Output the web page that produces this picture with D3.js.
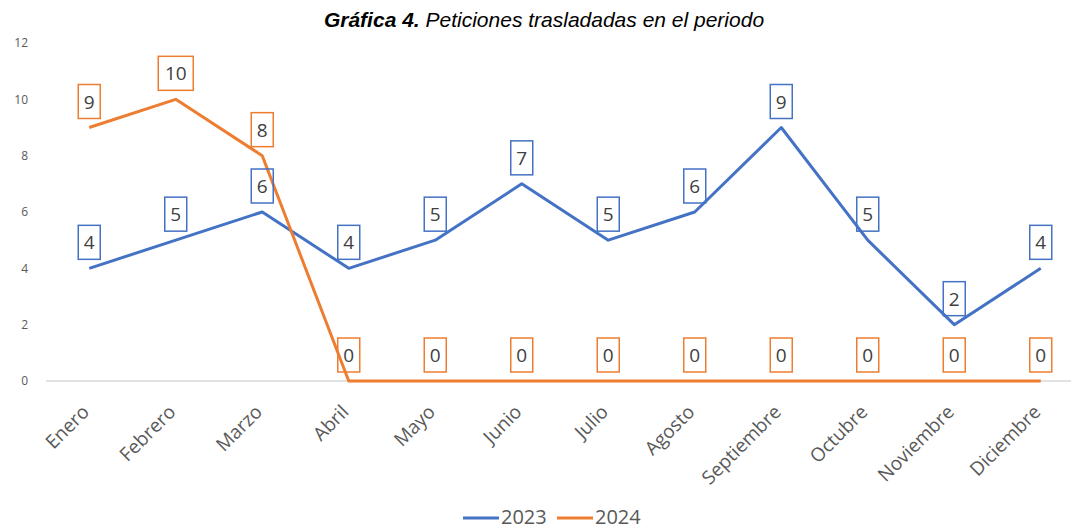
<!DOCTYPE html>
<html>
<head>
<meta charset="utf-8">
<script src="https://cdn.jsdelivr.net/npm/d3@7"></script>
<style>
  body { margin: 0; background: #fff; }
  svg { display: block; }
</style>
</head>
<body>
<div id="chart"></div>
<script>
/* global d3 */

const months = ['Enero', 'Febrero', 'Marzo', 'Abril', 'Mayo', 'Junio', 'Julio', 'Agosto', 'Septiembre', 'Octubre', 'Noviembre', 'Diciembre']
const values2023 = [4, 5, 6, 4, 5, 7, 5, 6, 9, 5, 2, 4]
const values2024 = [9, 10, 8, 0, 0, 0, 0, 0, 0, 0, 0, 0]
const seriesNames = ['2023', '2024']
const yTicks = [0, 2, 4, 6, 8, 10, 12]

const colors = { '2023': '#4472C4', '2024': '#ED7D31' }
const svgWidth = 1071
const svgHeight = 529

let svg = d3.select('#chart').append('svg')
    .attr('width', svgWidth)
    .attr('height', svgHeight)
    .style('font-family', "'Open Sans', sans-serif")

// title
let title = svg.append('text')
    .attr('x', 544)
    .attr('y', 27)
    .attr('text-anchor', 'middle')
    .style('font-family', "'Liberation Sans', Arial, sans-serif")
    .style('font-size', '21px')
    .style('font-style', 'italic')
title.append('tspan').style('font-weight', 'bold').text('Gráfica 4.')
title.append('tspan').text(' Peticiones trasladadas en el periodo')

let x = d3.scaleBand()
    .domain(months)
    .range([46, 1084])

let y = d3.scaleLinear()
    .domain([0, 12])
    .range([381, 43])

let xc = (m) => x(m) + x.bandwidth() / 2

// y axis labels (no line)
let yAxis = svg.append('g').attr('class', 'y-axis')
    .attr('transform', 'translate(28,0)')
    .call(d3.axisLeft(y).tickValues(yTicks).tickSize(0).tickPadding(0))
yAxis.select('.domain').remove()
yAxis.selectAll('text')
    .attr('fill', '#595959')
    .style('font-size', '12px')
    .style('font-family', "'Open Sans', sans-serif")

// baseline
svg.append('line')
    .attr('x1', 46).attr('x2', 1084)
    .attr('y1', y(0)).attr('y2', y(0))
    .attr('stroke', '#d9d9d9')
    .attr('stroke-width', 1.5)

// x axis labels
let xAxis = svg.append('g').attr('class', 'x-axis')
    .attr('transform', 'translate(0,' + y(0) + ')')
    .call(d3.axisBottom(x).tickSize(0))
xAxis.select('.domain').remove()
xAxis.selectAll('text')
    .attr('fill', '#595959')
    .style('font-size', '19px')
    .style('font-family', "'Open Sans', sans-serif")
    .attr('text-anchor', 'end')
    .attr('dy', 0)
    .attr('transform', 'translate(-1,30) rotate(-45)')

let line = d3.line()
    .x((d) => xc(d.month))
    .y((d) => y(d.value))

let series = seriesNames.map((name, i) => ({
    name: name,
    points: months.map((m, j) => ({ month: m, value: [values2023, values2024][i][j] }))
}))

series.forEach((s) => {
    svg.append('path')
        .datum(s.points)
        .attr('fill', 'none')
        .attr('stroke', colors[s.name])
        .attr('stroke-width', 3)
        .attr('stroke-linejoin', 'round')
        .attr('d', line)
})

// data labels
series.forEach((s) => {
    let g = svg.append('g').attr('class', 'labels-' + s.name)
    s.points.forEach((p) => {
        let txt = String(p.value)
        let w = txt.length > 1 ? 35 : 22
        let h = 34
        let cx = xc(p.month)
        let bottom = y(p.value) - 9
        g.append('rect')
            .attr('x', cx - w / 2)
            .attr('y', bottom - h)
            .attr('width', w)
            .attr('height', h)
            .attr('fill', 'none')
            .attr('stroke', colors[s.name])
            .attr('stroke-width', 1.5)
        g.append('text')
            .attr('x', cx)
            .attr('y', bottom - h / 2 + 7)
            .attr('text-anchor', 'middle')
            .attr('fill', '#404040')
            .style('font-size', '19px')
            .text(txt)
    })
})

// legend
let legend = svg.append('g').attr('class', 'legend')
let legendX = [463, 557]
seriesNames.forEach((name, i) => {
    legend.append('line')
        .attr('x1', legendX[i]).attr('x2', legendX[i] + 36)
        .attr('y1', 518).attr('y2', 518)
        .attr('stroke', colors[name])
        .attr('stroke-width', 3)
    legend.append('text')
        .attr('x', legendX[i] + 38)
        .attr('y', 524)
        .attr('fill', '#595959')
        .style('font-size', '20px')
        .text(name)
})
</script>
</body>
</html>
